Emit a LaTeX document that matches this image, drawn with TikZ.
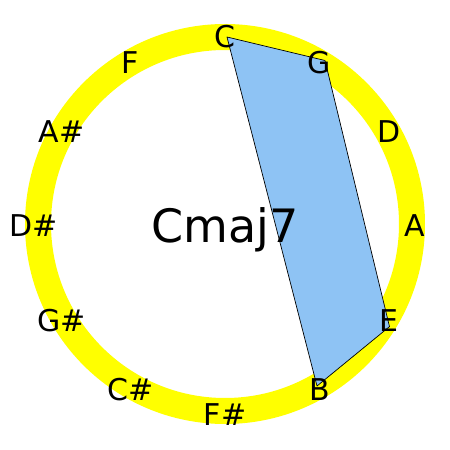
\documentclass[tikz,border=0pt]{standalone}
\usepackage{fontspec}
\setmainfont{DejaVu Sans}
\definecolor{Ring}{RGB}{255,255,0}
\definecolor{Chordfill}{RGB}{142,195,244}

\begin{document}
\begin{tikzpicture}[x=0.5pt,y=0.5pt,line cap=round,line join=round,
  note/.style={inner sep=0pt,yshift=-1pt,font=\fontsize{15}{16}\selectfont},
  chord/.style={inner sep=0pt,font=\fontsize{23}{24}\selectfont}]
\path[use as bounding box] (-225,-226) rectangle (225,224);
% ring of fifths
\draw[Ring,line width=13pt] (0,0) circle[radius=187];
% chord shape
\coordinate (vC) at (2,187);
\coordinate (vG) at (100,163.5);
\coordinate (vE) at (164.5,-102.6);
\coordinate (vB) at (92,-162);
\filldraw[fill=Chordfill,draw=black,line width=0.35pt] (vC) -- (vG) -- (vE) -- (vB) -- cycle;
% note names
\node[note] (nC)  at (90:189)  {C};
\node[note] (nG)  at (60:189)  {G};
\node[note] (nD)  at (30:189)  {D};
\node[note] (nA)  at (0:190)   {A};
\node[note] (nE)  at (-30:189) {E};
\node[note] (nB)  at (-60:189) {B};
\node[note] (nFs) at (-90:189) {F\#};
\node[note] (nCs) at (-120:189) {C\#};
\node[note] (nGs) at (-150:189) {G\#};
\node[note] (nDs) at (180:191) {D\#};
\node[note] (nAs) at (150:189) {A\#};
\node[note] (nF)  at (120:189) {F};
\node[chord] (name) at (0,-6) {Cmaj7};
\end{tikzpicture}
\end{document}
